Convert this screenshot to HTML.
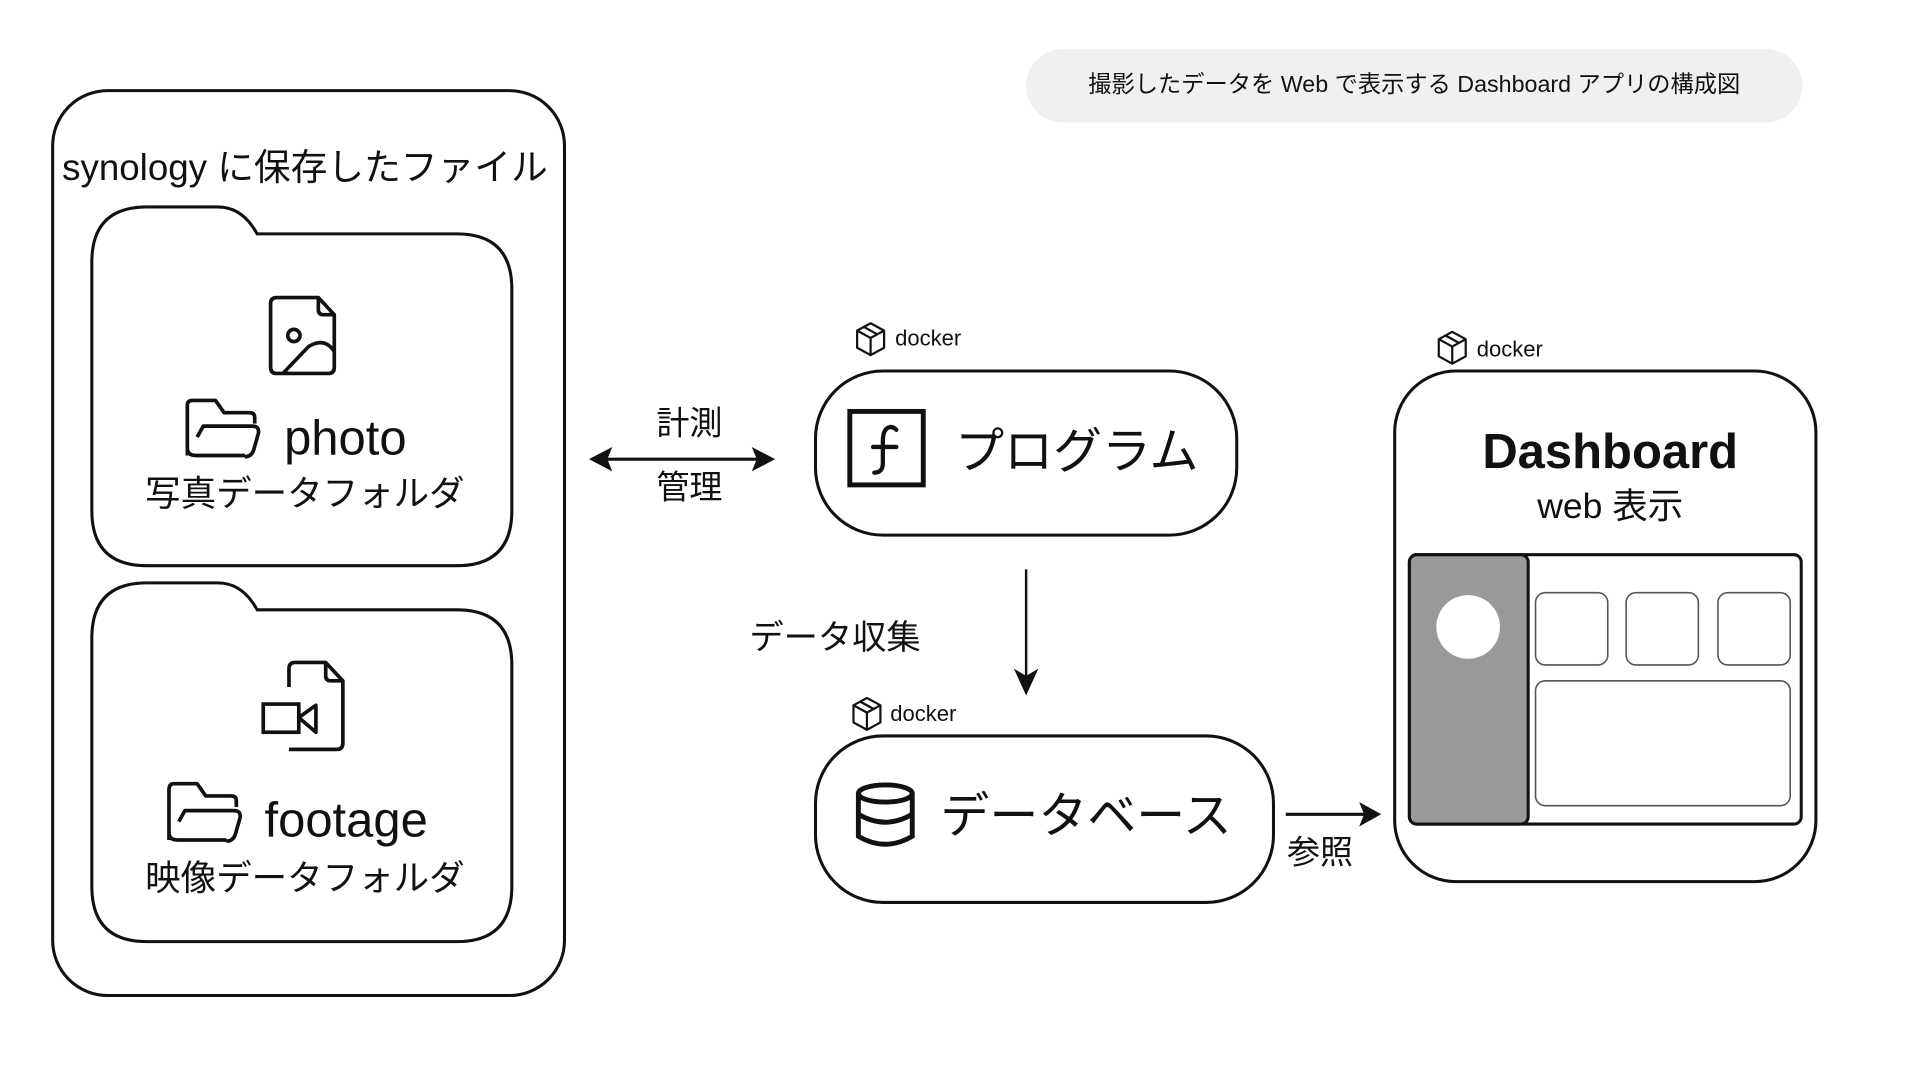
<!DOCTYPE html>
<html><head><meta charset="utf-8"><style>
html,body{margin:0;padding:0;background:#fff;}
svg{display:block;}
text{font-family:"Liberation Sans","Noto Sans CJK JP",sans-serif;fill:#111;}
</style></head><body>
<svg width="1920" height="1080" viewBox="0 0 1568 882" preserveAspectRatio="none" xmlns="http://www.w3.org/2000/svg">
<defs>
<g id="box">
<path d="M3 8 L14 2 L25 8 L25 22 L14 28 L3 22 Z M3 8 L14 14 L25 8 M14 14 L14 28 M8.5 5 L19.5 11" fill="none" stroke="#111" stroke-width="1.8" stroke-linejoin="round"/>
</g>
</defs>
<rect x="838" y="40" width="634" height="60" rx="30" fill="#f0f0f0"/>
<text x="1155" y="75" font-size="19" text-anchor="middle">撮影したデータを Web で表示する Dashboard アプリの構成図</text>

<rect x="43" y="74" width="418" height="739" rx="45" fill="none" stroke="#111" stroke-width="2.5"/>
<text x="249" y="147" font-size="30" text-anchor="middle">synology に保存したファイル</text>

<path d="M75 214 Q75 169 120 169 L178 169 Q198 169 210 191 L373 191 Q418 191 418 236 L418 417 Q418 462 373 462 L120 462 Q75 462 75 417 Z" fill="none" stroke="#111" stroke-width="2.5"/>
<path d="M221 248 Q221 243 226 243 L260 243 L273 257 L273 300 Q273 305 268 305 L226 305 Q221 305 221 300 Z M260 243 L260 253 Q260 257 264 257 L273 257" fill="none" stroke="#111" stroke-width="3" stroke-linejoin="round"/>
<circle cx="240" cy="274" r="5" fill="none" stroke="#111" stroke-width="3"/>
<path d="M231 305 L252 283 Q265 275 273 287" fill="none" stroke="#111" stroke-width="3"/>
<path d="M153 372 L153 331 Q153 327 157 327 L176 327 L183 337 L204 337 Q208 337 208 341 L208 346 M200 372 L160 372 Q153 372 153 366 M161 357 L166 348 L206 348 Q212 348 211 354 L207 368 Q205 373 200 373" fill="none" stroke="#111" stroke-width="3" stroke-linejoin="round"/>
<text x="232" y="371" font-size="40">photo</text>
<text x="249" y="413" font-size="29" text-anchor="middle">写真データフォルダ</text>

<path d="M75 521 Q75 476 120 476 L178 476 Q198 476 210 498 L373 498 Q418 498 418 543 L418 724 Q418 769 373 769 L120 769 Q75 769 75 724 Z" fill="none" stroke="#111" stroke-width="2.5"/>
<path d="M236 561 L236 546 Q236 541 241 541 L266 541 L280 556 L280 607 Q280 612 275 612 L236 612 M266 541 L266 552 Q266 556 270 556 L280 556" fill="none" stroke="#111" stroke-width="3" stroke-linejoin="round"/>
<rect x="215" y="575" width="29" height="23" fill="none" stroke="#111" stroke-width="3"/>
<path d="M244 586 L258 576 L258 598 Z" fill="none" stroke="#111" stroke-width="3" stroke-linejoin="round"/>
<path d="M138 686 L138 645 Q138 640 142 640 L161 640 L168 650 L189 650 Q193 650 193 654 L193 659 M185 686 L145 686 Q138 686 138 680 M146 671 L151 662 L191 662 Q197 662 196 668 L192 682 Q190 687 185 687" fill="none" stroke="#111" stroke-width="3" stroke-linejoin="round"/>
<text x="216" y="683" font-size="40">footage</text>
<text x="249" y="727" font-size="29" text-anchor="middle">映像データフォルダ</text>

<line x1="492" y1="375" x2="621" y2="375" stroke="#111" stroke-width="2.5"/>
<path d="M481 375 L500 365 L496 375 L500 385 Z" fill="#111"/>
<path d="M633 375 L614 365 L618 375 L614 385 Z" fill="#111"/>
<text x="563" y="355" font-size="27" text-anchor="middle">計測</text>
<text x="563" y="407" font-size="27" text-anchor="middle">管理</text>

<use href="#box" x="697" y="262"/>
<text x="731" y="282" font-size="18">docker</text>
<rect x="666" y="303" width="344" height="134" rx="55" fill="none" stroke="#111" stroke-width="2.5"/>
<rect x="694" y="336" width="60" height="60" fill="none" stroke="#111" stroke-width="4"/>
<path d="M732 351 Q728 347 724 350 Q721 353 721 360 L721 378 Q721 386 714 386 M713 365 L732 365" fill="none" stroke="#111" stroke-width="3.5" stroke-linecap="round"/>
<text x="780" y="382" font-size="40">プログラム</text>

<line x1="838" y1="465" x2="838" y2="553" stroke="#111" stroke-width="2"/>
<path d="M838 568 L828 546 L838 552 L848 546 Z" fill="#111"/>
<text x="612" y="530" font-size="28">データ収集</text>

<use href="#box" x="694" y="568"/>
<text x="727" y="589" font-size="18">docker</text>
<rect x="666" y="601" width="374" height="136" rx="55" fill="none" stroke="#111" stroke-width="2.5"/>
<ellipse cx="723" cy="648" rx="22" ry="7" fill="none" stroke="#111" stroke-width="4"/>
<path d="M701 648 L701 683 Q723 696 745 683 L745 648 M701 665 Q723 678 745 665" fill="none" stroke="#111" stroke-width="4"/>
<text x="768" y="680" font-size="40">データベース</text>

<line x1="1050" y1="665" x2="1115" y2="665" stroke="#111" stroke-width="2.5"/>
<path d="M1128 665 L1110 655 L1114 665 L1110 675 Z" fill="#111"/>
<text x="1051" y="705" font-size="27">参照</text>

<use href="#box" x="1172" y="269"/>
<text x="1206" y="291" font-size="18">docker</text>
<rect x="1139" y="303" width="344" height="417" rx="50" fill="none" stroke="#111" stroke-width="2.5"/>
<text x="1315" y="382" font-size="40" font-weight="bold" text-anchor="middle">Dashboard</text>
<text x="1315" y="423" font-size="29" text-anchor="middle">web 表示</text>
<rect x="1151" y="453" width="320" height="220" rx="6" fill="#fff" stroke="#111" stroke-width="2.5"/>
<rect x="1151" y="453" width="97" height="220" rx="6" fill="#999" stroke="#111" stroke-width="2.5"/>
<circle cx="1199" cy="512" r="26" fill="#fff"/>
<rect x="1254" y="484" width="59" height="59" rx="8" fill="none" stroke="#555" stroke-width="1.3"/>
<rect x="1328" y="484" width="59" height="59" rx="8" fill="none" stroke="#555" stroke-width="1.3"/>
<rect x="1403" y="484" width="59" height="59" rx="8" fill="none" stroke="#555" stroke-width="1.3"/>
<rect x="1254" y="556" width="208" height="102" rx="8" fill="none" stroke="#555" stroke-width="1.3"/>
</svg>
</body></html>
